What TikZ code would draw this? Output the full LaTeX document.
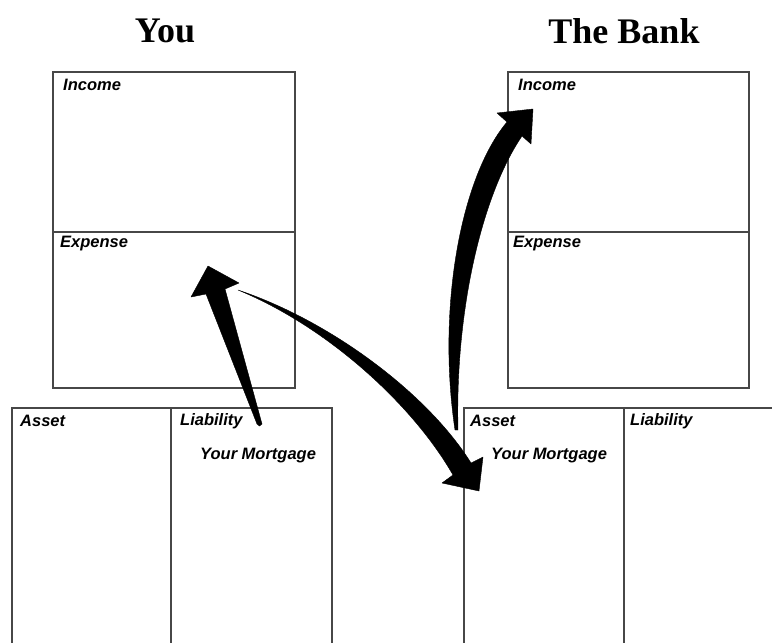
\documentclass[tikz,border=0pt]{standalone}
\usepackage{fontspec}
\setmainfont{Liberation Serif}
\newfontfamily\labfont{Liberation Sans}
\begin{document}
\begin{tikzpicture}[x=1pt,y=-1pt,
  frame/.style={draw=black!72,line width=1.6pt},
  title/.style={font=\bfseries\fontsize{36}{36}\selectfont,inner sep=0pt},
  lab/.style={font=\labfont\bfseries\itshape\fontsize{16.5}{16.5}\selectfont,inner sep=0pt,anchor=west},
  arrowfill/.style={fill=black,draw=black,line width=0.4pt,line join=round}]
\useasboundingbox (0,0) rectangle (772,643);
\fill[white] (0,0) rectangle (772,643);
% titles
\node[title] (tyou) at (165,31) {You};
\node[title] (tbank) at (624,31) {The Bank};
% You: income/expense
\draw[frame] (53,72) rectangle (295,388);
\draw[frame] (53,232) -- (295,232);
% Bank: income/expense
\draw[frame] (508,72) rectangle (749,388);
\draw[frame] (508,232) -- (749,232);
% You: balance sheet
\draw[frame] (12,645) -- (12,408) -- (332,408) -- (332,645);
\draw[frame] (171,408) -- (171,645);
% Bank: balance sheet
\draw[frame] (464,645) -- (464,408) -- (774,408);
\draw[frame] (624,408) -- (624,645);
% labels
\node[lab] (yinc) at (63,85) {Income};
\node[lab] (yexp) at (60,244) {Expense};
\node[lab] (yast) at (20,421) {Asset};
\node[lab] (ylia) at (180,421) {Liability};
\node[lab] (ymort) at (200,456) {Your Mortgage};
\node[lab] (binc) at (518,85) {Income};
\node[lab] (bexp) at (513,244) {Expense};
\node[lab] (bast) at (470,421) {Asset};
\node[lab] (blia) at (630,421) {Liability};
\node[lab] (bmort) at (491,456) {Your Mortgage};
% arrow 1: liability -> expense (straight tapered)
\coordinate (a1tail) at (259.5,426);
\coordinate (a1tip) at (208,266);
\fill[arrowfill] (a1tail) -- (257,424) -- (206,294) -- (191,297) -- (a1tip) -- (239,283) -- (225,289) -- (262,424) -- cycle;
% arrow 2: expense -> bank asset (curved tapered)
\coordinate (a2tail) at (238,290);
\coordinate (a2tip) at (479,491);
\fill[arrowfill] (a2tail) .. controls (331,321) and (428,394) .. (471,463)
  -- (483,457) -- (a2tip) -- (442,483) -- (453,475)
  .. controls (413,405) and (328,327) .. (a2tail) -- cycle;
% arrow 3: bank asset -> bank income (curved tapered)
\coordinate (a3tail) at (455,430);
\coordinate (a3tip) at (533,109);
\fill[arrowfill] (a3tail) .. controls (437,310) and (460,178) .. (507,122)
  -- (497,113) -- (a3tip) -- (531,144) -- (522,136)
  .. controls (482,195) and (455,310) .. (458,430) -- cycle;
\end{tikzpicture}
\end{document}
